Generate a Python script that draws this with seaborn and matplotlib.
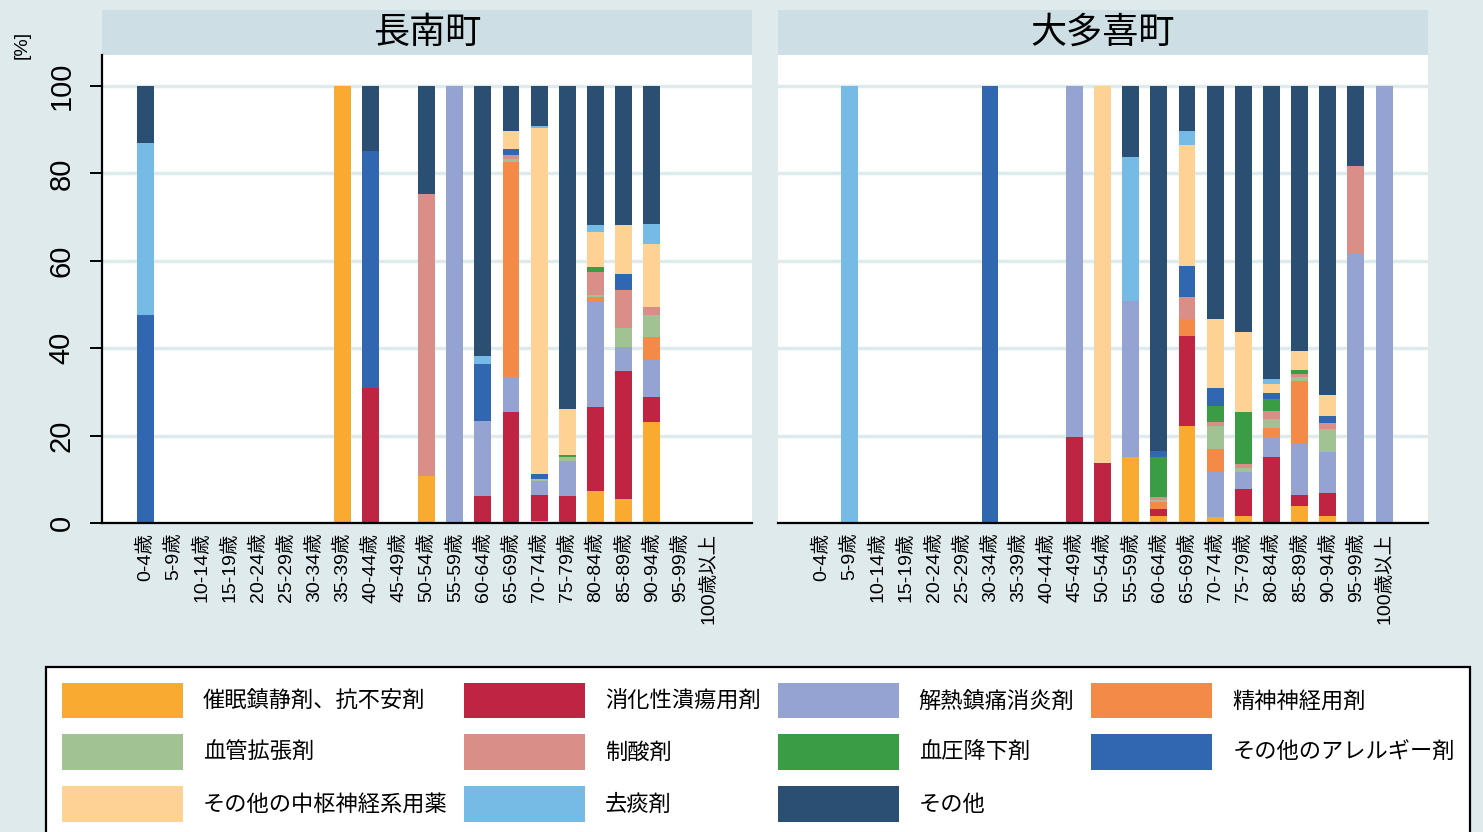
import pandas as pd
import matplotlib
matplotlib.use('Agg')
import matplotlib.pyplot as plt
from matplotlib.patches import Patch, Rectangle
import seaborn as sns


ages = ['0-4歳', '5-9歳', '10-14歳', '15-19歳', '20-24歳', '25-29歳', '30-34歳',
        '35-39歳', '40-44歳', '45-49歳', '50-54歳', '55-59歳', '60-64歳', '65-69歳',
        '70-74歳', '75-79歳', '80-84歳', '85-89歳', '90-94歳', '95-99歳', '100歳以上']

drugs = ['催眠鎮静剤、抗不安剤', '消化性潰瘍用剤', '解熱鎮痛消炎剤', '精神神経用剤',
         '血管拡張剤', '制酸剤', '血圧降下剤', 'その他のアレルギー剤',
         'その他の中枢神経系用薬', '去痰剤', 'その他']

barvi = ['#F9AA30', '#BF2542', '#94A3D1', '#F48A48', '#A1C394', '#D98E88',
         '#3A9C45', '#3067B0', '#FED295', '#76BBE6', '#2A4F73']

# 長南町 [%]
ch_suimin    = [0, 0, 0, 0, 0, 0, 0, 100, 0, 0, 10.8, 0, 0, 0, 0.4, 0, 7.4, 5.6, 23.2, 0, 0]
ch_shoka     = [0, 0, 0, 0, 0, 0, 0, 0, 30.8, 0, 0, 0, 6.2, 25.5, 6.0, 6.1, 19.1, 29.1, 5.6, 0, 0]
ch_genetsu   = [0, 0, 0, 0, 0, 0, 0, 0, 0, 0, 0, 100, 17.2, 8.0, 3.1, 8.0, 24.0, 5.5, 8.5, 0, 0]
ch_seishin   = [0, 0, 0, 0, 0, 0, 0, 0, 0, 0, 0, 0, 0, 49.2, 0, 0, 1.3, 0, 5.2, 0, 0]
ch_kekkan    = [0, 0, 0, 0, 0, 0, 0, 0, 0, 0, 0, 0, 0, 0.6, 0.6, 1.0, 0.3, 4.5, 5.1, 0, 0]
ch_seisan    = [0, 0, 0, 0, 0, 0, 0, 0, 0, 0, 64.5, 0, 0, 0.9, 0, 0, 5.4, 8.7, 1.8, 0, 0]
ch_ketsuatsu = [0, 0, 0, 0, 0, 0, 0, 0, 0, 0, 0, 0, 0, 0, 0, 0.5, 1.0, 0, 0, 0, 0]
ch_allergy   = [47.6, 0, 0, 0, 0, 0, 0, 0, 54.4, 0, 0, 0, 13.0, 1.5, 1.1, 0, 0, 3.5, 0, 0, 0]
ch_chusu     = [0, 0, 0, 0, 0, 0, 0, 0, 0, 0, 0, 0, 0, 3.9, 79.3, 10.5, 8.0, 11.2, 14.4, 0, 0]
ch_kyotan    = [39.4, 0, 0, 0, 0, 0, 0, 0, 0, 0, 0, 0, 1.9, 0, 0.4, 0, 1.8, 0, 4.6, 0, 0]
ch_sonota    = [13.0, 0, 0, 0, 0, 0, 0, 0, 14.8, 0, 24.7, 0, 61.7, 10.4, 9.1, 73.9, 31.7, 31.9, 31.6, 0, 0]

# 大多喜町 [%]
ot_suimin    = [0, 0, 0, 0, 0, 0, 0, 0, 0, 0, 0, 15.2, 1.7, 22.3, 1.3, 1.7, 0, 3.8, 1.7, 0, 0]
ot_shoka     = [0, 0, 0, 0, 0, 0, 0, 0, 0, 19.7, 13.7, 0, 1.4, 20.4, 0, 6.0, 15.2, 2.7, 5.2, 0, 0]
ot_genetsu   = [0, 0, 0, 0, 0, 0, 0, 0, 0, 80.3, 0, 35.5, 0, 0, 10.4, 4.0, 4.5, 11.9, 9.3, 61.6, 100]
ot_seishin   = [0, 0, 0, 0, 0, 0, 0, 0, 0, 0, 0, 0, 1.7, 3.9, 5.2, 0, 2.1, 14.0, 0, 0, 0]
ot_kekkan    = [0, 0, 0, 0, 0, 0, 0, 0, 0, 0, 0, 0, 0.4, 0, 5.4, 1.0, 1.9, 0.9, 5.4, 0, 0]
ot_seisan    = [0, 0, 0, 0, 0, 0, 0, 0, 0, 0, 0, 0, 0.7, 5.2, 0.9, 0.9, 2.0, 0.9, 1.2, 20.1, 0]
ot_ketsuatsu = [0, 0, 0, 0, 0, 0, 0, 0, 0, 0, 0, 0, 9.1, 0, 3.5, 11.8, 2.7, 0.9, 0, 0, 0]
ot_allergy   = [0, 0, 0, 0, 0, 0, 100, 0, 0, 0, 0, 0, 1.4, 7.1, 4.3, 0, 1.4, 0, 1.8, 0, 0]
ot_chusu     = [0, 0, 0, 0, 0, 0, 0, 0, 0, 0, 86.3, 0, 0, 27.6, 15.7, 18.4, 2.1, 4.2, 4.8, 0, 0]
ot_kyotan    = [0, 100, 0, 0, 0, 0, 0, 0, 0, 0, 0, 33.1, 0, 3.1, 0, 0, 1.1, 0, 0, 0, 0]
ot_sonota    = [0, 0, 0, 0, 0, 0, 0, 0, 0, 0, 0, 16.2, 83.6, 10.4, 53.3, 56.2, 67.0, 60.7, 70.6, 18.3, 0]

chonan = [ch_suimin, ch_shoka, ch_genetsu, ch_seishin, ch_kekkan, ch_seisan,
          ch_ketsuatsu, ch_allergy, ch_chusu, ch_kyotan, ch_sonota]
otaki = [ot_suimin, ot_shoka, ot_genetsu, ot_seishin, ot_kekkan, ot_seisan,
         ot_ketsuatsu, ot_allergy, ot_chusu, ot_kyotan, ot_sonota]

ozadje = '#DFEAEC'
trak = '#CDDEE4'
jp = ['Noto Sans CJK JP', 'DejaVu Sans']


def v_tabelo(serije):
    vrstice = []
    for drug, vals in zip(drugs, serije):
        for age, v in zip(ages, vals):
            vrstice.append({'age': age, 'drug': drug, 'value': v})
    df = pd.DataFrame(vrstice)
    df['cum'] = df.groupby('age', sort=False)['value'].cumsum()
    return df


def panel(ax, df, naslov, levi):
    for drug, col in reversed(list(zip(drugs, barvi))):
        sub = df[df['drug'] == drug]
        sns.barplot(data=sub, x='age', y='cum', order=ages, color=col, width=0.6,
                    errorbar=None, saturation=1, linewidth=0, ax=ax)
    ax.set_xlim(-1.53, 21.56)
    ax.set_ylim(0, 107.1)
    ax.set_yticks([0, 20, 40, 60, 80, 100])
    ax.set_xlabel('')
    ax.set_ylabel('')
    ax.set_facecolor('white')
    ax.yaxis.grid(True, color=ozadje, linewidth=2.5)
    ax.xaxis.grid(False)
    ax.set_axisbelow(True)
    for s in ['top', 'right']:
        ax.spines[s].set_visible(False)
    ax.spines['bottom'].set_color('black')
    ax.spines['bottom'].set_linewidth(1.6)
    ax.tick_params(axis='x', length=0, pad=7, labelsize=14, labelrotation=90)
    if levi:
        ax.spines['left'].set_color('black')
        ax.spines['left'].set_linewidth(1.6)
        ax.tick_params(axis='y', length=9, width=1.4, pad=10, labelsize=21,
                       labelrotation=90, direction='out')
        for t in ax.get_yticklabels():
            t.set_va('center')
    else:
        ax.spines['left'].set_visible(False)
        ax.tick_params(axis='y', left=False, labelleft=False)
    h = 45 / 468
    ax.add_patch(Rectangle((0, 1), 1, h, transform=ax.transAxes, clip_on=False,
                           facecolor=trak, edgecolor='none'))
    ax.text(0.5, 1 + h / 2, naslov, transform=ax.transAxes, ha='center', va='center',
            fontsize=26, family=jp)


plt.rcParams['font.family'] = ['Liberation Sans', 'Noto Sans CJK JP', 'DejaVu Sans']

fig = plt.figure(figsize=(14.83, 8.32), dpi=100, facecolor=ozadje)
ax1 = fig.add_axes([102 / 1483, 1 - 523 / 832, 650 / 1483, 468 / 832])
ax2 = fig.add_axes([778 / 1483, 1 - 523 / 832, 650 / 1483, 468 / 832])

panel(ax1, v_tabelo(chonan), '長南町', True)
panel(ax2, v_tabelo(otaki), '大多喜町', False)

fig.text(22 / 1483, 1 - 45 / 832, '[%]', rotation=90, ha='center', va='center', fontsize=14)

# legenda po vrsticah (matplotlib polni po stolpcih)
rocaji = [Patch(facecolor=c, edgecolor='none', label=d) for d, c in zip(drugs, barvi)]
vrstni_red = [0, 4, 8, 1, 5, 9, 2, 6, 10, 3, 7]
leg = fig.legend([rocaji[i] for i in vrstni_red], [drugs[i] for i in vrstni_red],
                 loc='upper left', bbox_to_anchor=(46 / 1483, 1 - 667 / 832),
                 bbox_transform=fig.transFigure, ncol=4, frameon=True, fancybox=False,
                 borderaxespad=0, borderpad=0.7, handlelength=5.45, handleheight=2.1,
                 handletextpad=0.9, columnspacing=0.75, labelspacing=0.72,
                 prop={'family': jp, 'size': 16})
leg.get_frame().set_edgecolor('black')
leg.get_frame().set_linewidth(1.6)
leg.get_frame().set_facecolor('white')
leg.get_frame().set_alpha(1)

plt.savefig('out.png', dpi=100, facecolor=ozadje)
plt.close()
